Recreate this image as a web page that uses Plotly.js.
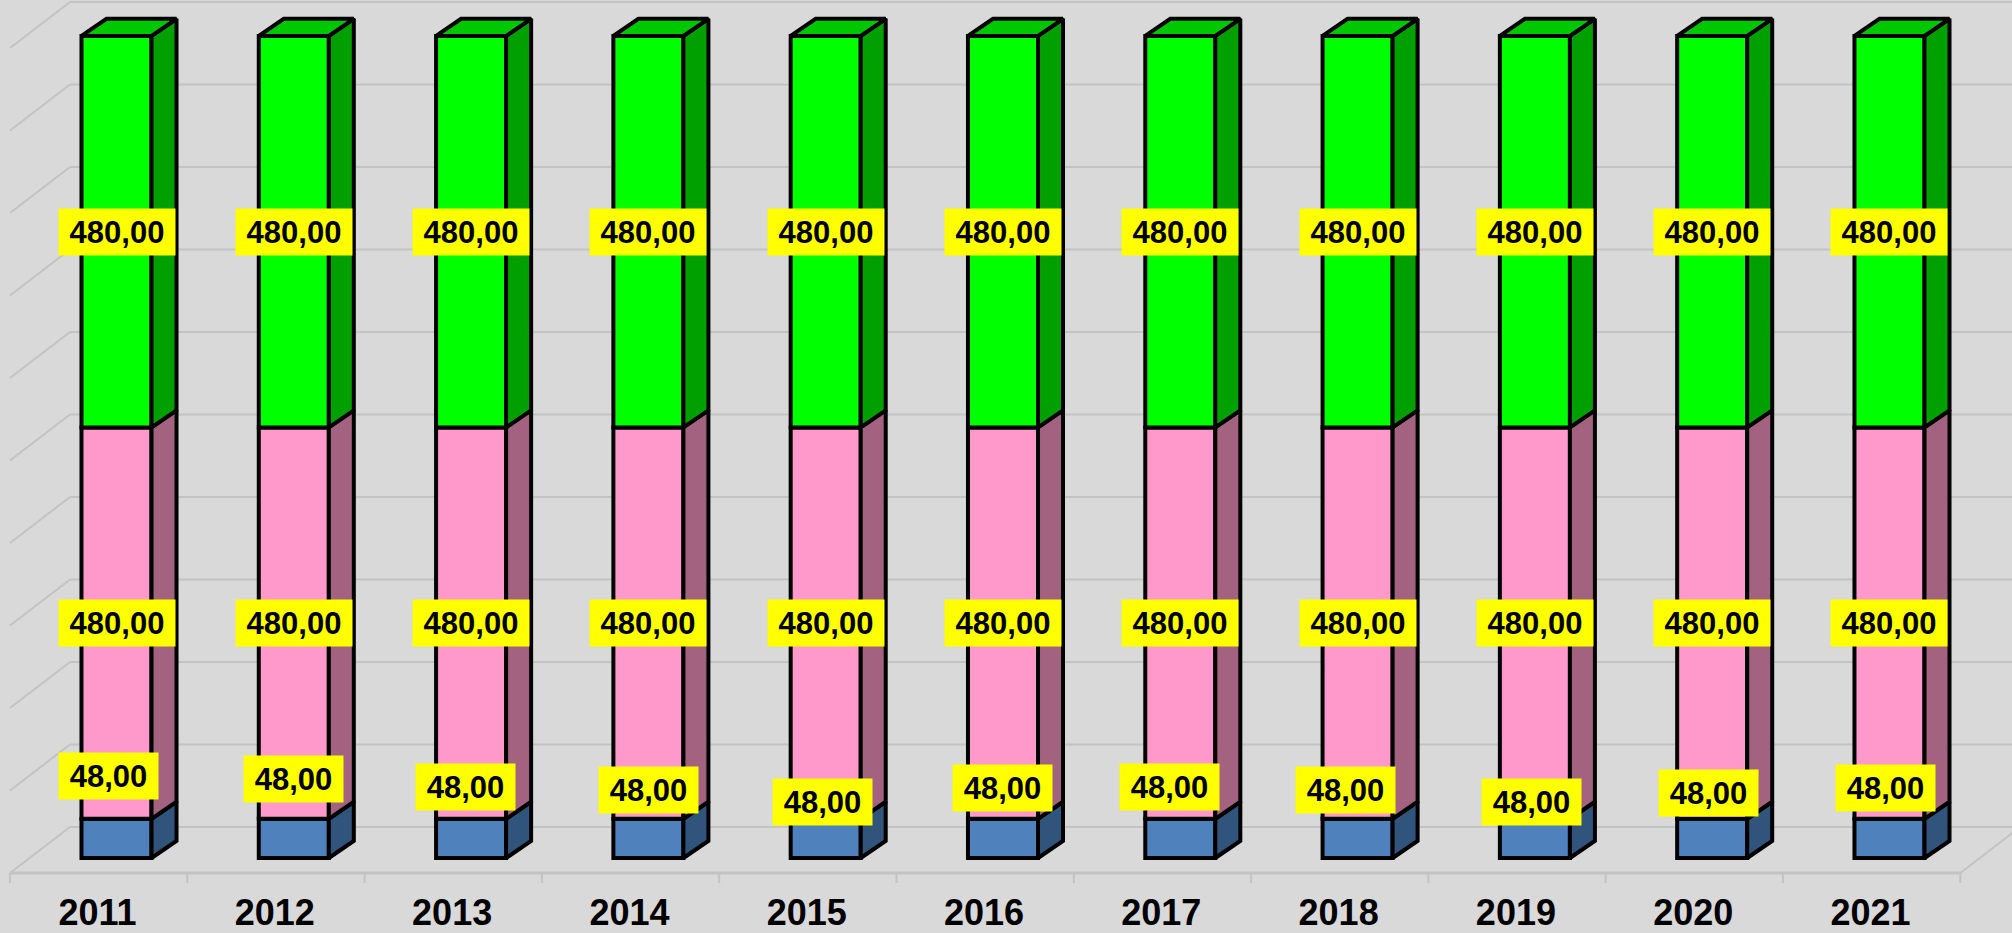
<!DOCTYPE html>
<html>
<head>
<meta charset="utf-8">
<script src="https://cdn.plot.ly/plotly-3.0.1.min.js"></script>
<style>html,body{margin:0;padding:0;background:#d9d9d9;}#chart{width:2012px;height:933px;}</style>
</head>
<body>
<div id="chart"></div>
<script>
// ---- data ----
const years = ['2011','2012','2013','2014','2015','2016','2017','2018','2019','2020','2021'];
const serieBlue  = [48, 48, 48, 48, 48, 48, 48, 48, 48, 48, 48];
const seriePink  = [480, 480, 480, 480, 480, 480, 480, 480, 480, 480, 480];
const serieGreen = [480, 480, 480, 480, 480, 480, 480, 480, 480, 480, 480];
const gridValues = [0, 100, 200, 300, 400, 500, 600, 700, 800, 900, 1000];

// ---- layout / projection constants (not data) ----
const BAR_W = 0.395;          // front face width (category units)
const DEPTH_DX = 0.141;       // bar depth, x
const DEPTH_DY = 21;          // bar depth, y (value units)
const WALL_DY = 38.0;         // back wall zero offset
const WALL_SCALE = 1.0117;    // back wall perspective scale
const FLOOR_DX = 0.3384;      // floor depth, x
const FLOOR_DY = 56.4;        // floor depth, y
const WALL_X = -0.2623;       // back-left corner
const CAT_SHIFT = -0.107;     // floor-front shift of category centre
const TICK_LEN = 12.3;
const blueLabelShiftY = [43, 40, 32, 29, 17, 31, 32, 29, 17, 26, 31];
const blueLabelShiftX = [-8, 0, -6, 0, -3, 0, -11, -12, -3, -4, -4];

const colors = {
  blue:  {front:'#4F81BD', side:'#31547C'},
  pink:  {front:'#FF99CC', side:'#A3627F'},
  green: {front:'#00FF00', side:'#00A000', top:'#00C800'}
};
const GRID = '#C3C3C3';
const fmt = v => v.toFixed(2).replace('.', ',');
const idx = years.map((_, i) => i);

// ---- bars (front faces) ----
const series = [
  {name:'blue', vals: serieBlue},
  {name:'pink', vals: seriePink},
  {name:'green', vals: serieGreen}
];
const bases = series.map((s, k) => idx.map(i => series.slice(0, k).reduce((a, t) => a + t.vals[i], 0)));

const traces = series.map((s, k) => ({
  type:'bar', x: idx, y: s.vals, base: bases[k], width: BAR_W,
  marker:{color: colors[s.name].front, line:{color:'#000', width:4}},
  hoverinfo:'skip', showlegend:false
}));

// ---- side faces ----
series.forEach((s, k) => {
  const xs = [], ys = [];
  idx.forEach(i => {
    const x1 = i + BAR_W / 2, b = bases[k][i], t = b + s.vals[i];
    xs.push(x1, x1 + DEPTH_DX, x1 + DEPTH_DX, x1, x1, null);
    ys.push(b, b + DEPTH_DY, t + DEPTH_DY, t, b, null);
  });
  traces.push({type:'scatter', mode:'lines', x: xs, y: ys, fill:'toself',
    fillcolor: colors[s.name].side, line:{color:'#000', width:4},
    hoverinfo:'skip', showlegend:false});
});
// ---- top faces ----
{
  const xs = [], ys = [];
  idx.forEach(i => {
    const x0 = i - BAR_W / 2, x1 = i + BAR_W / 2;
    const t = bases[2][i] + serieGreen[i];
    xs.push(x0, x0 + DEPTH_DX, x1 + DEPTH_DX, x1, x0, null);
    ys.push(t, t + DEPTH_DY, t + DEPTH_DY, t, t, null);
  });
  traces.push({type:'scatter', mode:'lines', x: xs, y: ys, fill:'toself',
    fillcolor: colors.green.top, line:{color:'#000', width:4},
    hoverinfo:'skip', showlegend:false});
}

// ---- walls, floor ----
const shapes = [];
const XMAX = 11;
gridValues.forEach(g => {
  const vb = WALL_DY + WALL_SCALE * g;
  shapes.push({type:'line', layer:'below', xref:'x', yref:'y', x0: WALL_X, y0: vb, x1: XMAX, y1: vb, line:{color: GRID, width:2}});
  shapes.push({type:'line', layer:'below', xref:'x', yref:'y', x0: WALL_X - FLOOR_DX, y0: vb - FLOOR_DY, x1: WALL_X, y1: vb, line:{color: GRID, width:2}});
});
const floorV = WALL_DY - FLOOR_DY;
const floorX0 = WALL_X - FLOOR_DX;
const floorX1 = floorX0 + years.length;
shapes.push({type:'line', layer:'below', xref:'x', yref:'y', x0: floorX0, y0: floorV, x1: floorX1, y1: floorV, line:{color: GRID, width:3}});
shapes.push({type:'line', layer:'below', xref:'x', yref:'y', x0: floorX1, y0: floorV, x1: floorX1 + FLOOR_DX, y1: floorV + FLOOR_DY, line:{color: GRID, width:2}});
for (let k = 0; k <= years.length; k++) {
  shapes.push({type:'line', layer:'below', xref:'x', yref:'y', x0: floorX0 + k, y0: floorV, x1: floorX0 + k, y1: floorV - TICK_LEN, line:{color: GRID, width:2}});
}

// ---- data labels ----
const labelFont = {family:'"Liberation Sans", Arial, sans-serif', size:31, color:'#000', weight:700};
const annotations = [];
idx.forEach(i => {
  [1, 2].forEach(k => {
    const v = series[k].vals[i];
    annotations.push({x: i, y: bases[k][i] + v / 2, xref:'x', yref:'y', text: '<b>' + fmt(v) + '</b>', showarrow:false,
      xanchor:'center', yanchor:'middle', bgcolor:'#FFFF00', width:114, height:44, font: labelFont});
  });
  annotations.push({x: i, y: bases[0][i] + serieBlue[i], xref:'x', yref:'y', text: '<b>' + fmt(serieBlue[i]) + '</b>', showarrow:false,
    xanchor:'center', yanchor:'middle', xshift: blueLabelShiftX[i], yshift: blueLabelShiftY[i],
    bgcolor:'#FFFF00', width:97, height:44, font: labelFont});
});

const layout = {
  width: 2012, height: 933,
  margin: {l:0, r:0, t:0, b:50},
  paper_bgcolor:'#D9D9D9', plot_bgcolor:'#D9D9D9',
  showlegend:false, hovermode:false,
  barmode:'overlay',
  xaxis: {range:[-0.6571, 10.691], tickvals: idx.map(i => i + CAT_SHIFT), ticktext: years,
    showgrid:false, zeroline:false, showline:false, ticks:'', fixedrange:true, ticklabelstandoff: 5,
    tickfont:{family:'"Liberation Sans", Arial, sans-serif', size:36, color:'#000', weight:'bold'}},
  yaxis: {range:[-30.66, 1052.1], showgrid:false, zeroline:false, showline:false, showticklabels:false, ticks:'', fixedrange:true},
  shapes: shapes,
  annotations: annotations
};

Plotly.newPlot('chart', traces, layout, {displayModeBar:false, staticPlot:true});
</script>
</body>
</html>
